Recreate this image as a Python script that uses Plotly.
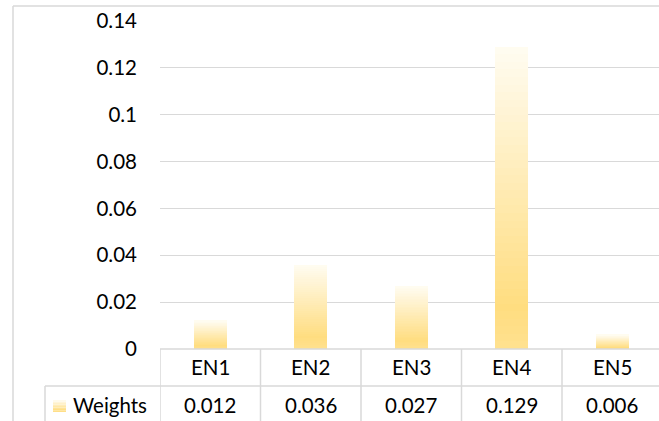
import plotly.graph_objects as go

categories = ["EN1", "EN2", "EN3", "EN4", "EN5"]
weights = [0.012, 0.036, 0.027, 0.129, 0.006]
series_name = "Weights"
y_ticks = [0, 0.02, 0.04, 0.06, 0.08, 0.1, 0.12, 0.14]

W, H = 659, 421
FONT = "Lato"
FS = 20.5
GRID = "#D9D9D9"

# gradient stops (fraction from bottom, rgb)
stops = [(0.0, (255, 225, 143)), (0.14, (255, 221, 128)), (1.0, (255, 252, 242))]


def grad(t):
    for (t0, c0), (t1, c1) in zip(stops[:-1], stops[1:]):
        if t0 <= t <= t1:
            f = (t - t0) / (t1 - t0) if t1 > t0 else 0
            c = [round(a + (b - a) * f) for a, b in zip(c0, c1)]
            return "rgb(%d,%d,%d)" % tuple(c)
    return "rgb(%d,%d,%d)" % stops[-1][1]


N = 40
fig = go.Figure()
for k in range(N):
    t = (k + 0.5) / N
    fig.add_trace(go.Bar(
        x=categories, y=[v / N for v in weights],
        marker=dict(color=grad(t), line=dict(width=0)),
        width=0.33, showlegend=False, hoverinfo="skip",
    ))

def px_x(p):
    return p / W

def px_y(p):
    return (H - p) / H

x0, x1 = 160, 659
y_top, y_bot = 21, 349
unit = 100.5
fig.update_layout(
    template="none",
    width=W, height=H, barmode="stack", bargap=0,
    margin=dict(l=0, r=0, t=0, b=0, pad=0, autoexpand=False),
    paper_bgcolor="white", plot_bgcolor="white",
    font=dict(family=FONT, size=FS, color="#000000"),
    showlegend=False,
    xaxis=dict(domain=[px_x(x0), px_x(x1)], range=[-0.5, -0.5 + (x1 - x0) / unit],
               showticklabels=False, showgrid=False, zeroline=False, showline=False,
               ticks="", automargin=False, fixedrange=True),
    yaxis=dict(domain=[px_y(y_bot), px_y(y_top)], range=[0, 0.14],
               tickvals=y_ticks, ticktext=[f"{v:g}" for v in y_ticks],
               showgrid=True, gridcolor=GRID, gridwidth=1.3, zeroline=False,
               showline=False, ticks="", ticklabelstandoff=22, automargin=False,
               tickfont=dict(family=FONT, size=FS, color="#000000"), fixedrange=True),
)

shapes = []
line = dict(color=GRID, width=1.5)
# chart border
shapes.append(dict(type="line", xref="paper", yref="paper", x0=px_x(13), x1=px_x(13), y0=px_y(6), y1=px_y(430), line=line))
shapes.append(dict(type="line", xref="paper", yref="paper", x0=px_x(13), x1=1.02, y0=px_y(6), y1=px_y(6), line=line))
# table horizontal lines
shapes.append(dict(type="line", xref="paper", yref="paper", x0=px_x(x0), x1=1.02, y0=px_y(349), y1=px_y(349), line=line))
shapes.append(dict(type="line", xref="paper", yref="paper", x0=px_x(45), x1=1.02, y0=px_y(386), y1=px_y(386), line=line))
shapes.append(dict(type="line", xref="paper", yref="paper", x0=px_x(45), x1=px_x(45), y0=px_y(386), y1=px_y(430), line=line))
for i in range(len(categories)):
    shapes.append(dict(type="line", xref="x", yref="paper", x0=i - 0.5, x1=i - 0.5, y0=px_y(349), y1=px_y(430), line=line))
# legend key (gradient square)
ks = 8
for k in range(ks):
    t0 = k / ks
    shapes.append(dict(type="rect", xref="paper", yref="paper", x0=px_x(53), x1=px_x(66),
                       y0=px_y(412 - 12 * t0), y1=px_y(412 - 12 * (k + 1) / ks),
                       fillcolor=grad((k + 0.5) / ks), line=dict(width=0)))

annotations = []
for i, (c, v) in enumerate(zip(categories, weights)):
    annotations.append(dict(x=i, y=px_y(367), xref="x", yref="paper", text=c, showarrow=False,
                            font=dict(family=FONT, size=FS, color="#000000"), xanchor="center", yanchor="middle"))
    annotations.append(dict(x=i, y=px_y(405), xref="x", yref="paper", text=f"{v:.3f}", showarrow=False,
                            font=dict(family=FONT, size=FS, color="#000000"), xanchor="center", yanchor="middle"))
annotations.append(dict(x=px_x(71), y=px_y(405), xref="paper", yref="paper", text=series_name, showarrow=False,
                        font=dict(family=FONT, size=FS, color="#000000"), xanchor="left", yanchor="middle"))

fig.update_layout(shapes=shapes, annotations=annotations)
fig.write_html("out.html", config={"displayModeBar": False},
               post_script="document.body.style.margin='0';document.body.style.overflow='hidden';")
